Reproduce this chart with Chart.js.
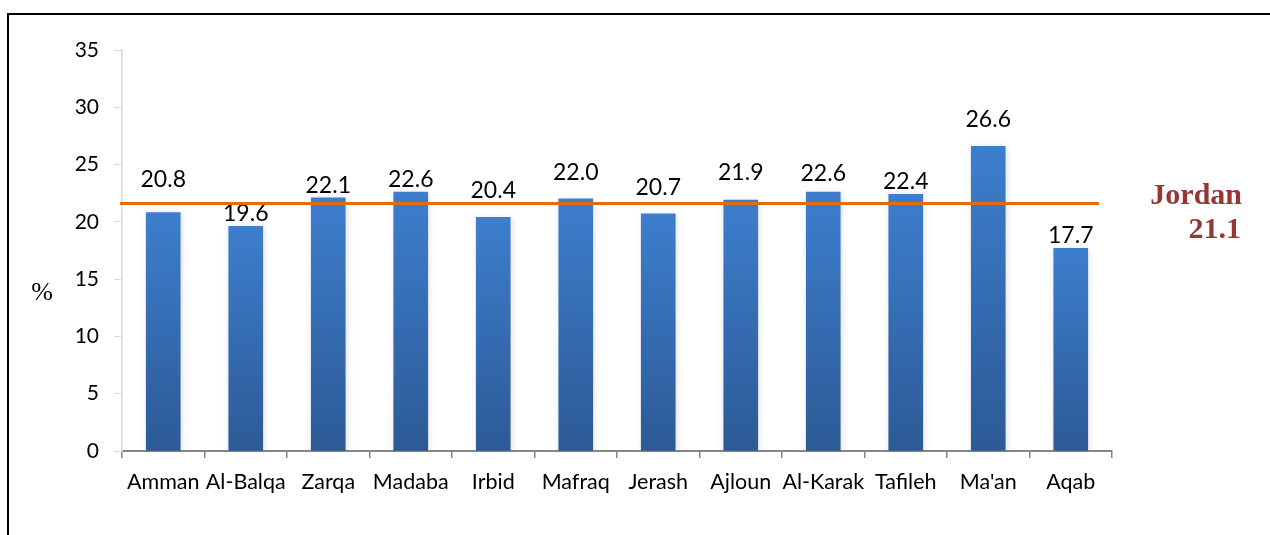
<!DOCTYPE html>
<html>
<head>
<meta charset="utf-8">
<script src="https://cdn.jsdelivr.net/npm/chart.js@4"></script>
<style>
  html, body { margin: 0; padding: 0; background: #fff; overflow: hidden; }
  #wrap { position: relative; width: 1270px; height: 535px; }
  #frame { position: absolute; left: 7px; top: 13px; width: 1300px; height: 600px;
           border-top: 2px solid #000; border-left: 2px solid #000; box-sizing: border-box; }
  canvas { position: absolute; left: 0; top: 0; }
</style>
</head>
<body>
<div id="wrap">
  <div id="frame"></div>
  <canvas id="chart" width="1270" height="535"></canvas>
</div>
<script>
// values
const governorates = ['Amman', 'Al-Balqa', 'Zarqa', 'Madaba', 'Irbid', 'Mafraq', 'Jerash', 'Ajloun', 'Al-Karak', 'Tafileh', "Ma'an", 'Aqab'];
const rates = [20.8, 19.6, 22.1, 22.6, 20.4, 22.0, 20.7, 21.9, 22.6, 22.4, 26.6, 17.7];
const jordanLabel = ['Jordan', '21.1'];
const jordanLine = 21.6; // where the orange line sits in the picture
const yTicks = [0, 5, 10, 15, 20, 25, 30, 35];

// how far each value label sits above its bar (px), as placed in the original
const labelGap = [26, 5, 5, 5, 19, 19, 19, 20, 11, 5, 19, 5];

const barFill = (c) => {
  const chart = c.chart;
  if (!chart.chartArea || c.type !== 'data') return '#3a78c6';
  const y = chart.scales.y;
  const top = y.getPixelForValue(c.raw);
  const bot = y.getPixelForValue(0);
  const g = chart.ctx.createLinearGradient(0, top, 0, bot);
  g.addColorStop(0, '#3d7ecd');
  g.addColorStop(1, '#2c5a96');
  return g;
};

const barShadow = {
  id: 'barShadow',
  beforeDatasetDraw(chart) {
    const ctx = chart.ctx;
    ctx.save();
    ctx.shadowColor = 'rgba(0,0,0,0.14)';
    ctx.shadowBlur = 7;
    ctx.shadowOffsetX = 1;
    ctx.shadowOffsetY = 1;
  },
  afterDatasetDraw(chart) {
    chart.ctx.restore();
  },
};

const extras = {
  id: 'extras',
  afterDatasetsDraw(chart) {
    const ctx = chart.ctx;
    const area = chart.chartArea;
    const meta = chart.getDatasetMeta(0);

    // value labels
    ctx.save();
    ctx.fillStyle = '#000';
    ctx.font = '23px Lato';
    ctx.textAlign = 'center';
    ctx.textBaseline = 'alphabetic';
    meta.data.forEach((bar, i) => {
      ctx.fillText(rates[i].toFixed(1), bar.x, bar.y - labelGap[i]);
    });
    ctx.restore();

    // Jordan average line
    const ly = chart.scales.y.getPixelForValue(jordanLine);
    ctx.save();
    ctx.strokeStyle = '#e46c0a';
    ctx.lineWidth = 3;
    ctx.beginPath();
    ctx.moveTo(area.left - 2, ly);
    ctx.lineTo(area.right - 13, ly);
    ctx.stroke();
    ctx.restore();

    // Jordan label
    ctx.save();
    ctx.fillStyle = '#953735';
    ctx.font = 'bold 30px "Liberation Serif"';
    ctx.textAlign = 'right';
    ctx.fillText(jordanLabel[0], 1242, ly);
    ctx.fillText(jordanLabel[1], 1241, ly + 34);
    ctx.restore();

    // % unit
    ctx.save();
    ctx.fillStyle = '#000';
    ctx.font = '26px "Liberation Serif"';
    ctx.textAlign = 'center';
    ctx.textBaseline = 'middle';
    ctx.fillText('%', 42, (area.top + area.bottom) / 2 + 43);
    ctx.restore();
  },
};

new Chart(document.getElementById('chart'), {
  type: 'bar',
  data: {
    labels: governorates,
    datasets: [{
      data: rates,
      backgroundColor: barFill,
      barThickness: 34,
      borderWidth: 0,
    }],
  },
  options: {
    responsive: false,
    animation: false,
    layout: { padding: { left: 0, top: 50, right: 158, bottom: 0 } },
    plugins: { legend: { display: false }, tooltip: { enabled: false } },
    scales: {
      x: {
        grid: { drawOnChartArea: false, color: '#868686', tickLength: 7, lineWidth: 1.5 },
        border: { color: '#868686', width: 2 },
        ticks: { color: '#000', font: { family: 'Lato', size: 21.5 }, padding: 11, maxRotation: 0, autoSkip: false },
        afterFit: (s) => { s.height = 84; },
      },
      y: {
        min: 0,
        max: 35,
        afterBuildTicks: (s) => { s.ticks = yTicks.map((v) => ({ value: v })); },
        grid: { drawOnChartArea: false, color: '#d9d9d9', tickLength: 8 },
        border: { color: '#d9d9d9', width: 1.5 },
        ticks: { color: '#000', font: { family: 'Lato', size: 21 }, padding: 15 },
        afterFit: (s) => { s.width = 122; },
      },
    },
  },
  plugins: [barShadow, extras],
});
</script>
</body>
</html>
